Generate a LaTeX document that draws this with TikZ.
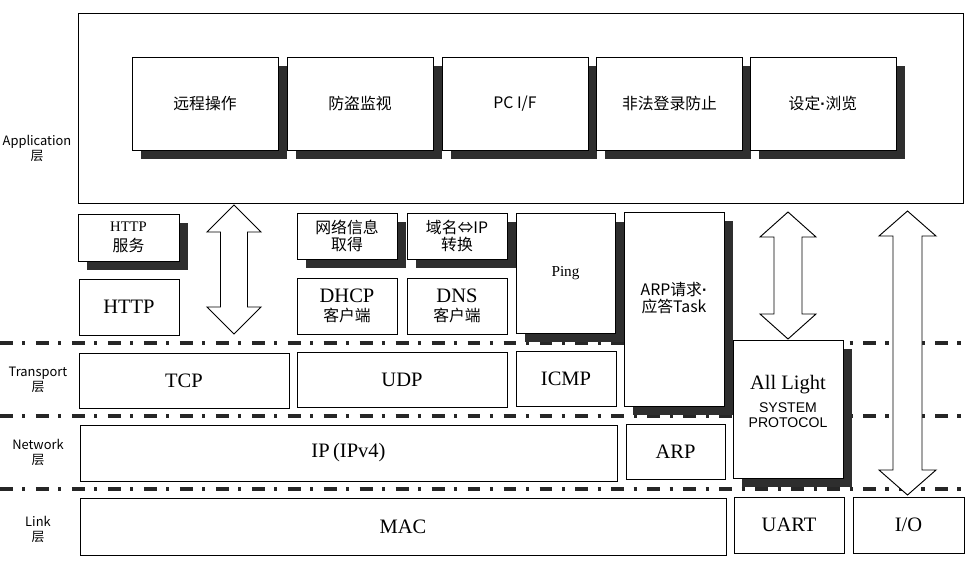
\documentclass[tikz,border=0pt]{standalone}
\usepackage{fontspec}
\setmainfont{Liberation Serif}
\newfontfamily\cjk{Noto Sans CJK SC}
\newfontfamily\arialfont{Liberation Sans}
\usetikzlibrary{shadows}
\tikzset{layerbox/.style={draw,fill=white,line width=0.8pt,inner sep=0pt}}
\tikzset{shadowbox/.style={layerbox,drop shadow={shadow xshift=7.6pt,shadow yshift=-7.6pt,fill=black!82,opacity=1}}}
\tikzset{boxsize/.style 2 args={minimum width=#1*0.03cm,minimum height=#2*0.03cm}}
\tikzset{bigtext/.style={font=\fontsize{17.5}{19}\selectfont}}
\tikzset{cjktext/.style={font=\cjk\fontsize{13.5}{14}\selectfont,align=center}}
\tikzset{layername/.style={font=\cjk\fontsize{11}{12.75}\selectfont,align=center}}
\tikzset{layerline/.style={line width=2.7pt,black!85,dash pattern=on 11pt off 8pt on 2.7pt off 9pt}}
\tikzset{bigarrow/.style={draw,fill=white,line width=0.8pt,line join=miter}}

\begin{document}
\begin{tikzpicture}[x=0.03cm,y=-0.03cm]
    % page
    \fill[white] (0,0) rectangle (971,564);
    \useasboundingbox (0,0) rectangle (971,564);
    % layer borders
    \foreach \y in {343,416,489}
    {
        \draw[layerline] (0,\y) -- (971,\y);
    }
    % application layer
    \node[layerbox,boxsize={885}{190}] (app) at (520.5,108) {};
    \foreach \x/\mybox/\mytext in {205/remote/远程操作,360/guard/防盗监视,515/pcif/{PC I/F},669.5/login/非法登录防止,823/setup/{设定{\arialfont\textbf{·}}浏览}}
    {
        \node[shadowbox,cjktext,boxsize={146}{93}] (\mybox) at (\x,103.5) {\mytext};
    }
    \node[shadowbox,cjktext,boxsize={101}{47}] (httpsv) at (128.5,237.5) {{\rmfamily\fontsize{12.5}{14}\selectfont HTTP}\\[3pt]服务};
    \node[shadowbox,cjktext,boxsize={100}{46}] (netinfo) at (347,236) {网络信息\\取得};
    \node[shadowbox,cjktext,boxsize={100}{46}] (dnsconv) at (457,236) {域名⇔IP\\转换};
    \node[layerbox,bigtext,boxsize={100}{56}] (http) at (129,307) {HTTP};
    \node[layerbox,cjktext,boxsize={100}{56}] (dhcp) at (347,306) {{\rmfamily\fontsize{17.5}{19}\selectfont DHCP}\\[2pt]客户端};
    \node[layerbox,cjktext,boxsize={100}{56}] (dns) at (457,306) {{\rmfamily\fontsize{17.5}{19}\selectfont DNS}\\[2pt]客户端};
    \node[shadowbox,boxsize={99}{120},font=\fontsize{13}{15}\selectfont] (ping) at (565.5,273) {Ping};
    \node[shadowbox,boxsize={100}{194}] (arptask) at (674,309) {};
    \node[cjktext] (arptext) at (674,298) {ARP请求{\arialfont\textbf{·}}\\应答Task};
    % transport, network and link layers
    \node[layerbox,bigtext,boxsize={210}{55}] (tcp) at (184,380.5) {TCP};
    \node[layerbox,bigtext,boxsize={210}{55}] (udp) at (402,379.5) {UDP};
    \node[layerbox,bigtext,boxsize={100}{55}] (icmp) at (566,378.5) {ICMP};
    \node[layerbox,bigtext,boxsize={537}{56}] (ip) at (348.5,453) {IP\,(IPv4)};
    \node[layerbox,bigtext,boxsize={99}{55}] (arp) at (675.5,451.5) {ARP};
    \node[layerbox,bigtext,boxsize={646}{57}] (mac) at (403,526.5) {MAC};
    \node[layerbox,bigtext,boxsize={110}{56}] (uart) at (789,525) {UART};
    \node[layerbox,bigtext,boxsize={111}{56}] (io) at (908.5,525) {I/O};
    \node[shadowbox,boxsize={110}{138}] (allbox) at (788,409) {};
    \node[bigtext] (allname) at (788,385) {All Light};
    \node[font=\arialfont\fontsize{12}{12.75}\selectfont,align=center] (allsys) at (788,415.5) {SYSTEM\\PROTOCOL};
    % layer names
    \node[layername] (applbl) at (37,148.5) {Application\\层};
    \node[layername] (translbl) at (38,379.5) {Transport\\层};
    \node[layername] (netlbl) at (38,452.5) {Network\\层};
    \node[layername] (linklbl) at (38,529.5) {Link\\层};
    % block arrows: centre/top/bottom/head half/shaft half/head length
    \foreach \cx/\ya/\yb/\hh/\hs/\hl in {234/205/334/27/13.5/27,788/212/339/28/14/25,907.5/211/495/28.5/14.5/25}
    {
        \draw[bigarrow] (\cx,\ya) -- ({\cx+\hh},{\ya+\hl}) -- ({\cx+\hs},{\ya+\hl}) -- ({\cx+\hs},{\yb-\hl})
            -- ({\cx+\hh},{\yb-\hl}) -- (\cx,\yb) -- ({\cx-\hh},{\yb-\hl}) -- ({\cx-\hs},{\yb-\hl})
            -- ({\cx-\hs},{\ya+\hl}) -- ({\cx-\hh},{\ya+\hl}) -- cycle;
    }
\end{tikzpicture}
\end{document}
